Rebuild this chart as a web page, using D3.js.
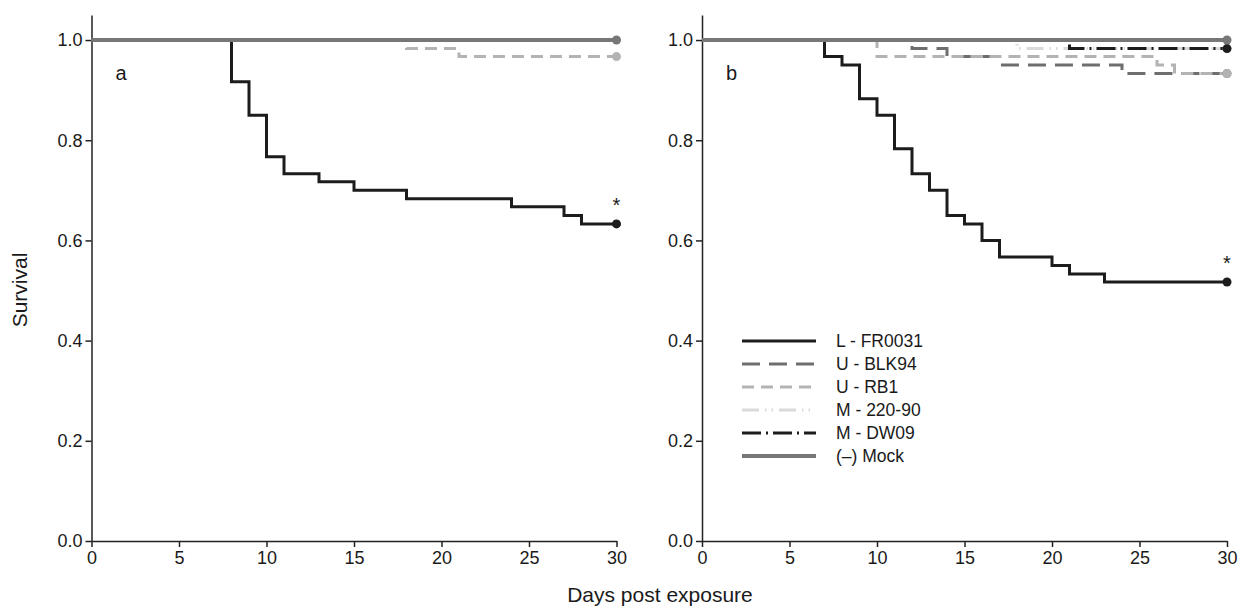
<!DOCTYPE HTML>
<html>
<head>
	<meta charset="UTF-8">
	<script src="https://d3js.org/d3.v7.min.js"></script>
	<style type="text/css">
	body { margin: 0; background-color: #ffffff; }
	svg text { font-family: "Liberation Sans", Arial, Helvetica, sans-serif; fill: #1a1a1a; }
	.axis path, .axis line { stroke: #222222; stroke-width: 1.5; }
	.axis text { font-size: 18px; }
	.line { fill: none; }
	</style>
	<title>Survival</title>
</head>
<body>
<div id="chart"></div>
<script>
// tick labels
var dayTicks = [0, 5, 10, 15, 20, 25, 30];
var survTicks = [0, 0.2, 0.4, 0.6, 0.8, 1.0];

// legend / series names
var seriesNames = ["L - FR0031", "U - BLK94", "U - RB1", "M - 220-90", "M - DW09", "(\u2013) Mock"];

// panel a : day of each step and survival after it
var aFR0031Days = [0, 8, 9, 10, 11, 13, 15, 18, 24, 27, 28, 30];
var aFR0031Surv = [1, 0.917, 0.85, 0.767, 0.733, 0.717, 0.7, 0.683, 0.667, 0.65, 0.633, 0.633];
var aRB1Days = [0, 18, 21, 30];
var aRB1Surv = [1, 0.983, 0.967, 0.967];
var aMockDays = [0, 30];
var aMockSurv = [1, 1];

// panel b
var bFR0031Days = [0, 7, 8, 9, 10, 11, 12, 13, 14, 15, 16, 17, 20, 21, 23, 30];
var bFR0031Surv = [1, 0.967, 0.95, 0.883, 0.85, 0.783, 0.733, 0.7, 0.65, 0.633, 0.6, 0.567, 0.55, 0.533, 0.517, 0.517];
var bBLK94Days = [0, 12, 14, 17, 24, 30];
var bBLK94Surv = [1, 0.983, 0.967, 0.95, 0.933, 0.933];
var bRB1Days = [0, 10, 26, 27, 30];
var bRB1Surv = [1, 0.967, 0.95, 0.933, 0.933];
var b22090Days = [0, 18, 30];
var b22090Surv = [1, 0.983, 0.983];
var bDW09Days = [0, 21, 30];
var bDW09Surv = [1, 0.983, 0.983];
var bMockDays = [0, 30];
var bMockSurv = [1, 1];

// look of each series
var styles = {
    "L - FR0031": {color: "#1c1c1c", width: 3, dash: null},
    "U - BLK94": {color: "#6e6e6e", width: 3, dash: "18,9"},
    "U - RB1": {color: "#b3b3b3", width: 3, dash: "12,7"},
    "M - 220-90": {color: "#dadada", width: 3, dash: "17,6,1.5,5,1.5,6"},
    "M - DW09": {color: "#1c1c1c", width: 3, dash: "19,5,2,5"},
    "(\u2013) Mock": {color: "#777777", width: 4, dash: null}
};

function makeSeries(name, days, surv, star) {
    return {name: name, star: star, points: days.map(function(d, i) { return {x: d, y: surv[i]}; })};
}

var panels = [
    {label: "a", left: 91.5, series: [
        makeSeries(seriesNames[0], aFR0031Days, aFR0031Surv, true),
        makeSeries(seriesNames[2], aRB1Days, aRB1Surv, false),
        makeSeries(seriesNames[5], aMockDays, aMockSurv, false)
    ]},
    {label: "b", left: 702, series: [
        makeSeries(seriesNames[0], bFR0031Days, bFR0031Surv, true),
        makeSeries(seriesNames[1], bBLK94Days, bBLK94Surv, false),
        makeSeries(seriesNames[2], bRB1Days, bRB1Surv, false),
        makeSeries(seriesNames[3], b22090Days, b22090Surv, false),
        makeSeries(seriesNames[4], bDW09Days, bDW09Surv, false),
        makeSeries(seriesNames[5], bMockDays, bMockSurv, false)
    ]}
];

var W = 1244, H = 608;
var plotW = 525, plotTop = 15, plotBottom = 541;

var xScale = d3.scaleLinear().domain([0, 30]).range([0, plotW]);
var yScale = d3.scaleLinear().domain([0, 1.05]).range([plotBottom, plotTop]);

var line = d3.line()
    .x(function(d) { return xScale(d.x); })
    .y(function(d) { return yScale(d.y); })
    .curve(d3.curveStepAfter);

var svg = d3.select("#chart").append("svg")
    .attr("width", W)
    .attr("height", H);

panels.forEach(function(p) {
    var g = svg.append("g").attr("transform", "translate(" + p.left + ",0)");

    g.append("g")
        .attr("class", "x axis")
        .attr("transform", "translate(0," + plotBottom + ")")
        .call(d3.axisBottom(xScale).tickValues(dayTicks).tickSize(6).tickSizeOuter(0).tickPadding(4));

    g.append("g")
        .attr("class", "y axis")
        .call(d3.axisLeft(yScale).tickValues(survTicks).tickFormat(d3.format(".1f")).tickSize(6).tickSizeOuter(0).tickPadding(3));

    // step curves
    p.series.forEach(function(s) {
        var st = styles[s.name];
        g.append("path")
            .attr("class", "line")
            .attr("d", line(s.points))
            .attr("stroke", st.color)
            .attr("stroke-width", st.width)
            .attr("stroke-dasharray", st.dash);
    });

    // end dots (drawn after lines)
    p.series.forEach(function(s) {
        var last = s.points[s.points.length - 1];
        g.append("circle")
            .attr("cx", xScale(last.x))
            .attr("cy", yScale(last.y))
            .attr("r", 4.5)
            .attr("fill", styles[s.name].color);
        if (s.star) {
            g.append("text")
                .attr("x", xScale(last.x))
                .attr("y", yScale(last.y) - 12)
                .attr("text-anchor", "middle")
                .style("font-size", "20px")
                .text("*");
        }
    });

    g.append("text")
        .attr("x", 24)
        .attr("y", 80)
        .style("font-size", "20px")
        .text(p.label);
});

// legend in panel b
var legend = svg.append("g").attr("transform", "translate(742,341)");
seriesNames.forEach(function(name, i) {
    var st = styles[name];
    legend.append("line")
        .attr("x1", 0).attr("x2", 74)
        .attr("y1", i * 23).attr("y2", i * 23)
        .attr("stroke", st.color)
        .attr("stroke-width", st.width)
        .attr("stroke-dasharray", st.dash);
    legend.append("text")
        .attr("x", 94)
        .attr("y", i * 23)
        .attr("dy", "0.35em")
        .style("font-size", "17.5px")
        .text(name);
});

// axis titles
svg.append("text")
    .attr("transform", "translate(27,290) rotate(-90)")
    .attr("text-anchor", "middle")
    .style("font-size", "21px")
    .text("Survival");

svg.append("text")
    .attr("x", 660)
    .attr("y", 602)
    .attr("text-anchor", "middle")
    .style("font-size", "21px")
    .text("Days post exposure");
</script>
</body>
</html>
